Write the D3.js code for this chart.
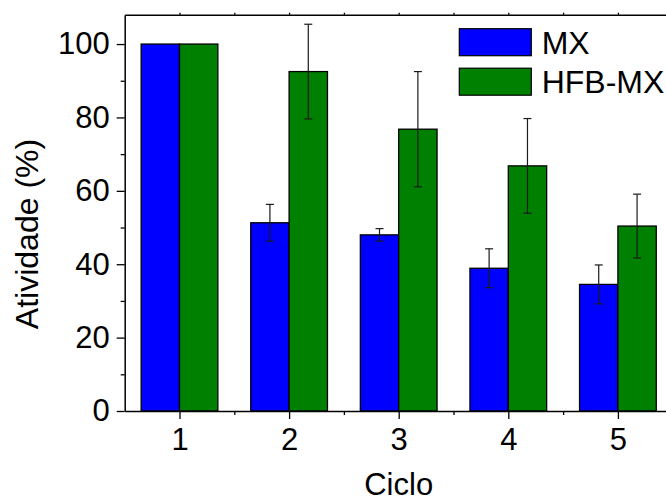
<!DOCTYPE html>
<html>
<head>
<meta charset="utf-8">
<script src="https://cdn.jsdelivr.net/npm/d3@7"></script>
<style>
  html, body { margin: 0; padding: 0; background: #fff; }
  svg { display: block; }
  text { font-family: "Liberation Sans", Arial, sans-serif; fill: #000; }
</style>
</head>
<body>
<div id="chart"></div>
<script>
const cycles = [1, 2, 3, 4, 5];
const seriesNames = ["MX", "HFB-MX"];
const mxValues = [100, 51.3, 48.0, 38.9, 34.5];
const mxErrors = [0, 5.0, 1.7, 5.3, 5.3];
const hfbValues = [100, 92.5, 76.8, 66.8, 50.4];
const hfbErrors = [0, 12.9, 15.7, 12.9, 8.7];
const yMajorTicks = [0, 20, 40, 60, 80, 100];
const yMinorTicks = [10, 30, 50, 70, 90];
const xMinorTicks = [1.5, 2.5, 3.5, 4.5];
const colors = ["#0000ff", "#008000"];

const W = 666, H = 502;
const svg = d3.select("#chart").append("svg").attr("width", W).attr("height", H);

const x = d3.scaleLinear().domain([0.5, 5.5]).range([124.7, 672.7]);
const y = d3.scaleLinear().domain([0, 108]).range([411, 14.7]);
const barW = 0.35;

const series = [
  { name: seriesNames[0], values: mxValues, errors: mxErrors, color: colors[0], offset: -barW },
  { name: seriesNames[1], values: hfbValues, errors: hfbErrors, color: colors[1], offset: 0 }
];

// bars
series.forEach(s => {
  svg.append("g").selectAll("rect").data(cycles).join("rect")
    .attr("x", (c) => x(c + s.offset))
    .attr("width", (c) => x(c + s.offset + barW) - x(c + s.offset))
    .attr("y", (c, i) => y(s.values[i]))
    .attr("height", (c, i) => y(0) - y(s.values[i]))
    .attr("fill", s.color)
    .attr("stroke", "#000")
    .attr("stroke-width", 1.3);
});

// error bars
series.forEach(s => {
  const g = svg.append("g").attr("stroke", "#1a1a1a").attr("stroke-width", 1.2);
  cycles.forEach((c, i) => {
    if (!s.errors[i]) return;
    const cx = x(c + s.offset + barW / 2);
    const y1 = y(s.values[i] + s.errors[i]), y2 = y(s.values[i] - s.errors[i]);
    g.append("line").attr("x1", cx).attr("x2", cx).attr("y1", y1).attr("y2", y2);
    g.append("line").attr("x1", cx - 4).attr("x2", cx + 4).attr("y1", y1).attr("y2", y1);
    g.append("line").attr("x1", cx - 4).attr("x2", cx + 4).attr("y1", y2).attr("y2", y2);
  });
});

// axes
const fs = 31;
const yAxis = svg.append("g").attr("transform", `translate(${x(0.5)},0)`)
  .call(d3.axisLeft(y).tickValues(yMajorTicks).tickSize(8).tickSizeOuter(0).tickPadding(7));
yAxis.selectAll("text").style("font-size", fs + "px");
svg.append("g").attr("transform", `translate(${x(0.5)},0)`)
  .call(d3.axisLeft(y).tickValues(yMinorTicks).tickSize(4).tickFormat(""))
  .select(".domain").remove();

const xAxis = svg.append("g").attr("transform", `translate(0,${y(0)})`)
  .call(d3.axisBottom(x).tickValues(cycles).tickSize(8).tickSizeOuter(0).tickPadding(9).tickFormat(d3.format("d")));
xAxis.selectAll("text").style("font-size", fs + "px");
svg.append("g").attr("transform", `translate(0,${y(0)})`)
  .call(d3.axisBottom(x).tickValues(xMinorTicks).tickSize(4).tickFormat(""))
  .select(".domain").remove();

// top frame line
svg.append("g").attr("transform", `translate(0,${y(108)})`)
  .call(d3.axisTop(x).tickValues(cycles.concat(xMinorTicks)).tickSize(2).tickSizeOuter(0).tickFormat(""));

svg.selectAll(".domain").attr("stroke", "#000").attr("stroke-width", 1.5);
svg.selectAll(".tick line").attr("stroke", "#000").attr("stroke-width", 1.3);

// axis titles
svg.append("text").attr("x", x(3)).attr("y", 495).attr("text-anchor", "middle")
  .style("font-size", "31px").text("Ciclo");
svg.append("text").attr("transform", `translate(37.5,234) rotate(-90)`).attr("text-anchor", "middle")
  .style("font-size", "32px").text("Atividade (%)");

// legend
const leg = svg.append("g");
series.forEach((s, i) => {
  const ly = 28.7 + i * 39.5;
  leg.append("rect").attr("x", 459.3).attr("y", ly).attr("width", 72).attr("height", 27)
    .attr("fill", s.color).attr("stroke", "#000").attr("stroke-width", 1.2);
  leg.append("text").attr("x", 541.7).attr("y", ly + 25).style("font-size", "32px").text(s.name);
});
</script>
</body>
</html>
